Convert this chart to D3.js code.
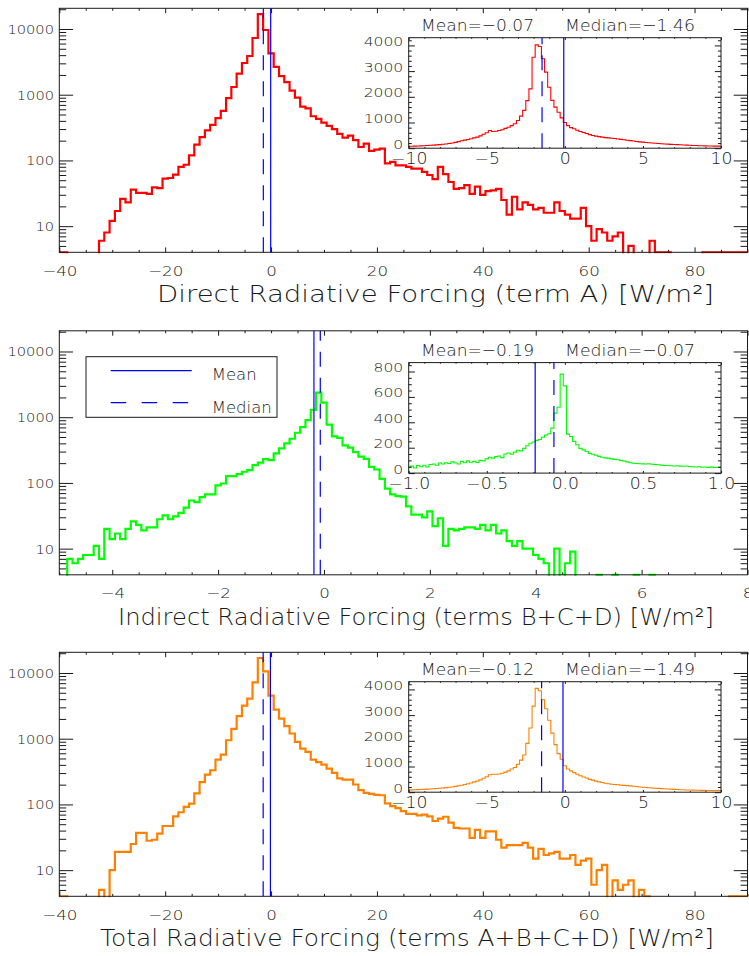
<!DOCTYPE html>
<html>
<head>
<meta charset="utf-8">
<script src="https://cdn.jsdelivr.net/npm/d3@7"></script>
<style>
  body { margin: 0; background: #fff; }
  svg text { font-family: "DejaVu Sans", sans-serif; font-weight: 200; fill: #1a1a1a; }
</style>
</head>
<body>
<svg id="chart" width="749" height="956"></svg>
<script>
// ---- Histogram counts (bin centres start at *Start, spaced by *Step) ----
const directStart = -40, directStep = 1;
const directCounts = [
  4,4,0,0,0,0,0,0,6,8,
  12,17,26,23,36,32,32,31,39,38,
  53,54,61,80,86,119,174,227,286,348,
  439,567,886,1310,2090,3040,3880,7300,16800,9650,
  4250,2650,1920,1550,1150,900,660,620,470,430,
  375,335,300,254,222,238,203,160,180,140,
  146,151,90,95,84,84,80,75,75,67,
  60,52,80,62,47,37,38,42,31,40,
  30,34,35,37,25,15,28,18,23,21,
  18,19,16,16,23,17,15,13,13,19,
  10,6,9,8,6,7,8,0,5,0,
  0,0,6,4,4,4,0,0,0,0,
  0,0,4,4,4,4,4,4,4,4,
  4
];

const indirectStart = -5, indirectStep = 0.1;
const indirectCounts = [
  0,0,7,6,7,8,8,11,7,20,
  14,17,14,20,26,23,19,21,21,28,
  32,28,31,35,42,54,51,61,67,67,
  92,98,127,127,136,148,157,187,203,230,
  222,281,335,399,470,580,705,900,1290,2370,
  1670,770,510,485,372,344,295,252,233,175,
  160,115,82,67,63,62,44,33,33,30,
  37,22,29,11,20,19,20,21,21,20,
  23,19,23,17,19,13,11,13,10,10,
  8,7,6,0,10,0,6,9,0,0,
  0,0,4,0,0,4,0,0,0,4,
  0,0,4,0,0,0,0,0,0,0,
  0,0,0,0,0,0,0,0,0,0,
  0
];

const totalStart = -40, totalStep = 1;
const totalCounts = [
  4,4,0,0,0,0,0,0,5,0,
  10,19,19,19,25,37,37,28,29,36,
  47,47,66,76,92,103,147,218,285,331,
  481,574,948,1410,2200,3190,4080,7220,16900,10600,
  4530,2775,2020,1550,1200,894,708,630,481,439,
  404,351,302,250,239,239,201,165,150,145,
  140,138,104,94,88,79,72,72,68,70,
  66,56,61,65,53,44,43,43,31,41,
  31,39,39,29,22,24,24,24,26,22,
  15,21,17,18,19,15,15,17,12,14,
  15,6,10,12,0,7,5,6,7,0,
  5,4,0,0,0,0,0,0,0,0,
  0,0,0,0,0,0,0,4,4,4,
  4
];

// ---- Zoomed histograms (linear axes) ----
const directZoomStart = -10, directZoomStep = 0.2;
const directZoomCounts = [
  75,78,82,85,92,98,105,112,120,130,
  140,152,165,180,200,225,255,290,315,340,
  365,400,430,480,540,600,690,650,660,690,
  720,770,815,880,950,1080,1250,1470,1850,2310,
  3540,4020,3960,3480,2960,2370,1860,1600,1400,1180,
  1000,880,800,755,700,650,610,570,530,495,
  470,450,430,410,400,390,375,360,345,330,
  310,295,280,262,248,235,222,210,200,190,
  180,172,165,158,150,146,140,132,125,120,
  114,108,103,98,95,91,88,85,82,80,
  78
];

const indirectZoomStart = -1, indirectZoomStep = 0.02;
const indirectZoomCounts = [
  45,55,40,60,50,62,48,68,72,62,
  80,72,82,76,88,80,72,92,82,96,
  86,92,84,100,96,112,125,118,130,135,
  122,150,158,148,165,180,175,195,215,235,
  245,258,265,282,300,310,354,472,519,779,
  687,307,288,250,223,195,183,170,155,148,
  140,132,125,120,118,112,108,105,100,95,
  88,82,78,76,74,73,72,74,70,68,
  66,63,60,60,58,56,58,55,54,56,
  52,50,48,50,46,48,45,47,44,46,
  45
];

const totalZoomStart = -10, totalZoomStep = 0.2;
const totalZoomCounts = [
  90,92,95,100,105,110,118,125,135,145,
  155,165,178,190,205,225,250,270,300,330,
  360,400,430,480,540,600,680,700,700,710,
  740,780,830,900,960,1090,1250,1450,1900,2500,
  3350,4040,3950,3600,3250,2800,2300,1850,1500,1280,
  1030,900,830,760,700,640,590,550,500,470,
  430,400,375,350,330,310,300,290,275,265,
  255,245,230,220,205,195,185,175,165,155,
  148,140,132,125,118,110,104,98,93,88,
  84,80,77,74,72,70,68,67,66,65,
  64
];

// ---- Summary statistics ----
const meanValues = [-0.07, -0.19, -0.12];
const medianValues = [-1.46, -0.07, -1.49];

// ---- Axis titles ----
const axisTitles = [
  "Direct Radiative Forcing (term A) [W/m²]",
  "Indirect Radiative Forcing (terms B+C+D) [W/m²]",
  "Total Radiative Forcing (terms A+B+C+D) [W/m²]"
];

// ---- Layout ----
const svg = d3.select("#chart");
const plotL = 59.3, plotR = 747.5, plotH = 244;
const zoomL = 408.7, zoomR = 721, zoomH = 110.5;
const ink = "#1a1a1a";
const dashV = "15,11";

const panels = [
  { top: 8.3, zoomTop: 37.7,
    counts: directCounts, start: directStart, step: directStep,
    xDomain: [-40, 90], xMajor: d3.range(-40, 81, 20), xMinor: d3.range(-40, 91, 5), xFmt: d3.format("d"),
    zCounts: directZoomCounts, zStart: directZoomStart, zStep: directZoomStep,
    zxDomain: [-10, 10], zxMajor: d3.range(-10, 11, 5), zxMinor: d3.range(-10, 11, 1), zxFmt: d3.format("d"),
    zyTop: 4300, zyMajor: d3.range(0, 4001, 1000), zyMinor: d3.range(0, 4300, 200),
    color: "#ff0000", title: axisTitles[0], titleX: 157, titleW: 557 },
  { top: 330.8, zoomTop: 362.6,
    counts: indirectCounts, start: indirectStart, step: indirectStep,
    xDomain: [-5, 8], xMajor: d3.range(-4, 8.01, 2), xMinor: d3.range(-5, 8.01, 0.5), xFmt: d3.format("d"),
    zCounts: indirectZoomCounts, zStart: indirectZoomStart, zStep: indirectZoomStep,
    zxDomain: [-1, 1], zxMajor: [-1, -0.5, 0, 0.5, 1], zxMinor: d3.range(-10, 10.1, 1).map(d => d / 10), zxFmt: d3.format(".1f"),
    zyTop: 870, zyMajor: d3.range(0, 801, 200), zyMinor: d3.range(0, 870, 50),
    color: "#00ff00", title: axisTitles[1], titleX: 118, titleW: 596, legend: true },
  { top: 652.3, zoomTop: 681.7,
    counts: totalCounts, start: totalStart, step: totalStep,
    xDomain: [-40, 90], xMajor: d3.range(-40, 81, 20), xMinor: d3.range(-40, 91, 5), xFmt: d3.format("d"),
    zCounts: totalZoomCounts, zStart: totalZoomStart, zStep: totalZoomStep,
    zxDomain: [-10, 10], zxMajor: d3.range(-10, 11, 5), zxMinor: d3.range(-10, 11, 1), zxFmt: d3.format("d"),
    zyTop: 4300, zyMajor: d3.range(0, 4001, 1000), zyMinor: d3.range(0, 4300, 200),
    color: "#ff8000", title: axisTitles[2], titleX: 100, titleW: 614 }
];

// log-axis tick values
const logMajor = [10, 100, 1000, 10000];
const logMinor = [];
[1, 10, 100, 1000, 10000].forEach(d => d3.range(2, 10).forEach(m => {
  const v = m * d; if (v > 4 && v < 20650 && !logMajor.includes(v)) logMinor.push(v);
}));

// step outline through bin edges (histogram style)
function stepPoints(counts, start, step, x, y, floor) {
  const pts = [];
  counts.forEach((c, i) => {
    const cx = start + i * step;
    const yy = y(Math.max(c, floor));
    pts.push([x(cx - step / 2), yy], [x(cx + step / 2), yy]);
  });
  return pts;
}

function cleanAxis(g) {
  g.attr("font-family", null).attr("font-size", null);
  g.select(".domain").remove();
  g.selectAll(".tick line").attr("stroke", ink).attr("stroke-width", 1);
}

let clipId = 0;
function clipRect(x0, y0, w, h) {
  const id = "clip" + (clipId++);
  svg.append("clipPath").attr("id", id).append("rect")
    .attr("x", x0).attr("y", y0 - 1).attr("width", w).attr("height", h + 2);
  return "url(#" + id + ")";
}

function frame(g, x0, y0, w, h) {
  g.append("rect").attr("x", x0).attr("y", y0).attr("width", w).attr("height", h)
    .attr("fill", "none").attr("stroke", ink).attr("stroke-width", 1);
}

// ticks on all four sides, pointing inward
function boxAxes(g, x, y, top, bottom, left, right, o) {
  const xl = o.xLen, yl = o.yLen;
  g.append("g").attr("transform", `translate(0,${bottom})`)
    .call(d3.axisBottom(x).tickValues(o.xMinor).tickSize(-xl / 2).tickFormat("")).call(cleanAxis);
  g.append("g").attr("transform", `translate(0,${top})`)
    .call(d3.axisTop(x).tickValues(o.xMinor).tickSize(-xl / 2).tickFormat("")).call(cleanAxis);
  g.append("g").attr("transform", `translate(0,${top})`)
    .call(d3.axisTop(x).tickValues(o.xMajor).tickSize(-xl).tickFormat("")).call(cleanAxis);
  const bx = g.append("g").attr("transform", `translate(0,${bottom})`)
    .call(d3.axisBottom(x).tickValues(o.xMajor).tickSize(-xl).tickFormat(o.xFmt)).call(cleanAxis);
  bx.selectAll(".tick text")
    .attr("y", o.xLabelY).attr("dy", null)
    .attr("font-size", o.xFont)
    .attr("transform", `scale(${o.sx},1)`);

  g.append("g").attr("transform", `translate(${left},0)`)
    .call(d3.axisLeft(y).tickValues(o.yMinor).tickSize(-yl / 2).tickFormat("")).call(cleanAxis);
  g.append("g").attr("transform", `translate(${right},0)`)
    .call(d3.axisRight(y).tickValues(o.yMinor).tickSize(-yl / 2).tickFormat("")).call(cleanAxis);
  g.append("g").attr("transform", `translate(${right},0)`)
    .call(d3.axisRight(y).tickValues(o.yMajor).tickSize(-yl).tickFormat("")).call(cleanAxis);
  const ly = g.append("g").attr("transform", `translate(${left},0)`)
    .call(d3.axisLeft(y).tickValues(o.yMajor).tickSize(-yl).tickFormat(o.yFmt)).call(cleanAxis);
  ly.selectAll(".tick text")
    .attr("x", -o.yLabelGap / o.syY).attr("dy", null).attr("y", o.yLabelDy)
    .attr("font-size", o.yFont)
    .attr("text-anchor", "end")
    .attr("transform", `scale(${o.syY},1)`);
}

panels.forEach((p, pi) => {
  const g = svg.append("g");
  const top = p.top, bottom = p.top + plotH;
  const x = d3.scaleLinear().domain(p.xDomain).range([plotL, plotR]);
  const y = d3.scaleLog().domain([4, 20650]).range([bottom, top]);

  // main histogram
  const clip = clipRect(plotL, top, plotR - plotL, plotH);
  g.append("path")
    .attr("clip-path", clip)
    .attr("d", d3.line()(stepPoints(p.counts, p.start, p.step, x, y, 1)))
    .attr("fill", "none").attr("stroke", p.color).attr("stroke-width", 2.2)
    .attr("stroke-linejoin", "miter");

  // mean / median markers
  g.append("line").attr("x1", x(meanValues[pi])).attr("x2", x(meanValues[pi]))
    .attr("y1", top).attr("y2", bottom).attr("stroke", "#0000ff").attr("stroke-width", 1.2);
  g.append("line").attr("x1", x(medianValues[pi])).attr("x2", x(medianValues[pi]))
    .attr("y1", bottom).attr("y2", top).attr("stroke", "#0000ff").attr("stroke-width", 1.2)
    .attr("stroke-dasharray", dashV);

  frame(g, plotL, top, plotR - plotL, plotH);
  boxAxes(g, x, y, top, bottom, plotL, plotR, {
    xLen: 4.9, yLen: 13.8,
    xMajor: p.xMajor, xMinor: p.xMinor.filter(v => !p.xMajor.includes(v)), xFmt: p.xFmt,
    yMajor: logMajor, yMinor: logMinor, yFmt: d3.format("d"),
    xLabelY: 23.5, xFont: 14.5, sx: 1.15,
    yLabelGap: 5.3, yLabelDy: 4.4, yFont: 12.2, syY: 1.2
  });

  // axis title
  g.append("text").attr("x", p.titleX).attr("y", bottom + 50)
    .attr("font-size", 23).attr("textLength", p.titleW).attr("lengthAdjust", "spacingAndGlyphs")
    .text(p.title);

  // zoomed inset
  const zTop = p.zoomTop, zBottom = p.zoomTop + zoomH;
  const zx = d3.scaleLinear().domain(p.zxDomain).range([zoomL, zoomR]);
  const zy = d3.scaleLinear().domain([0, p.zyTop]).range([zBottom, zTop]);
  const zclip = clipRect(zoomL, zTop, zoomR - zoomL, zoomH);
  g.append("path")
    .attr("clip-path", zclip)
    .attr("d", d3.line()(stepPoints(p.zCounts, p.zStart, p.zStep, zx, zy, 0)))
    .attr("fill", "none").attr("stroke", p.color).attr("stroke-width", 1.1);
  g.append("line").attr("x1", zx(meanValues[pi])).attr("x2", zx(meanValues[pi]))
    .attr("y1", zTop).attr("y2", zBottom).attr("stroke", "#0000ff").attr("stroke-width", 1.2);
  g.append("line").attr("x1", zx(medianValues[pi])).attr("x2", zx(medianValues[pi]))
    .attr("y1", zBottom).attr("y2", zTop).attr("stroke", "#0000ff").attr("stroke-width", 1.2)
    .attr("stroke-dasharray", dashV);
  frame(g, zoomL, zTop, zoomR - zoomL, zoomH);
  boxAxes(g, zx, zy, zTop, zBottom, zoomL, zoomR, {
    xLen: 2.2, yLen: 6.2,
    xMajor: p.zxMajor, xMinor: p.zxMinor.filter(v => !p.zxMajor.some(m => Math.abs(m - v) < 1e-9)), xFmt: p.zxFmt,
    yMajor: p.zyMajor, yMinor: p.zyMinor.filter(v => !p.zyMajor.includes(v)), yFmt: d3.format("d"),
    xLabelY: 16.2, xFont: 15, sx: 1.15,
    yLabelGap: 5.4, yLabelDy: 0, yFont: 13, syY: 1.2
  });

  // statistics above the inset
  const fmt2 = d3.format(".2f");
  g.append("text").attr("x", 421).attr("y", zTop - 6.5).attr("font-size", 16.5)
    .attr("textLength", 113).attr("lengthAdjust", "spacingAndGlyphs")
    .text("Mean=" + fmt2(meanValues[pi]));
  g.append("text").attr("x", 565).attr("y", zTop - 6.5).attr("font-size", 16.5)
    .attr("textLength", 130).attr("lengthAdjust", "spacingAndGlyphs")
    .text("Median=" + fmt2(medianValues[pi]));

  // legend
  if (p.legend) {
    const lg = g.append("g");
    lg.append("rect").attr("x", 86).attr("y", 356.7).attr("width", 191).attr("height", 60.6)
      .attr("fill", "#fff").attr("stroke", ink).attr("stroke-width", 1);
    lg.append("line").attr("x1", 110.7).attr("x2", 191.7).attr("y1", 370.7).attr("y2", 370.7)
      .attr("stroke", "#0000ff").attr("stroke-width", 1.2);
    lg.append("line").attr("x1", 110.7).attr("x2", 191.7).attr("y1", 402.7).attr("y2", 402.7)
      .attr("stroke", "#0000ff").attr("stroke-width", 1.2).attr("stroke-dasharray", "15.5,15.5");
    lg.append("text").attr("x", 211.7).attr("y", 380).attr("font-size", 16.5).text("Mean");
    lg.append("text").attr("x", 211.7).attr("y", 412.5).attr("font-size", 16.5).text("Median");
  }
});
</script>
</body>
</html>
